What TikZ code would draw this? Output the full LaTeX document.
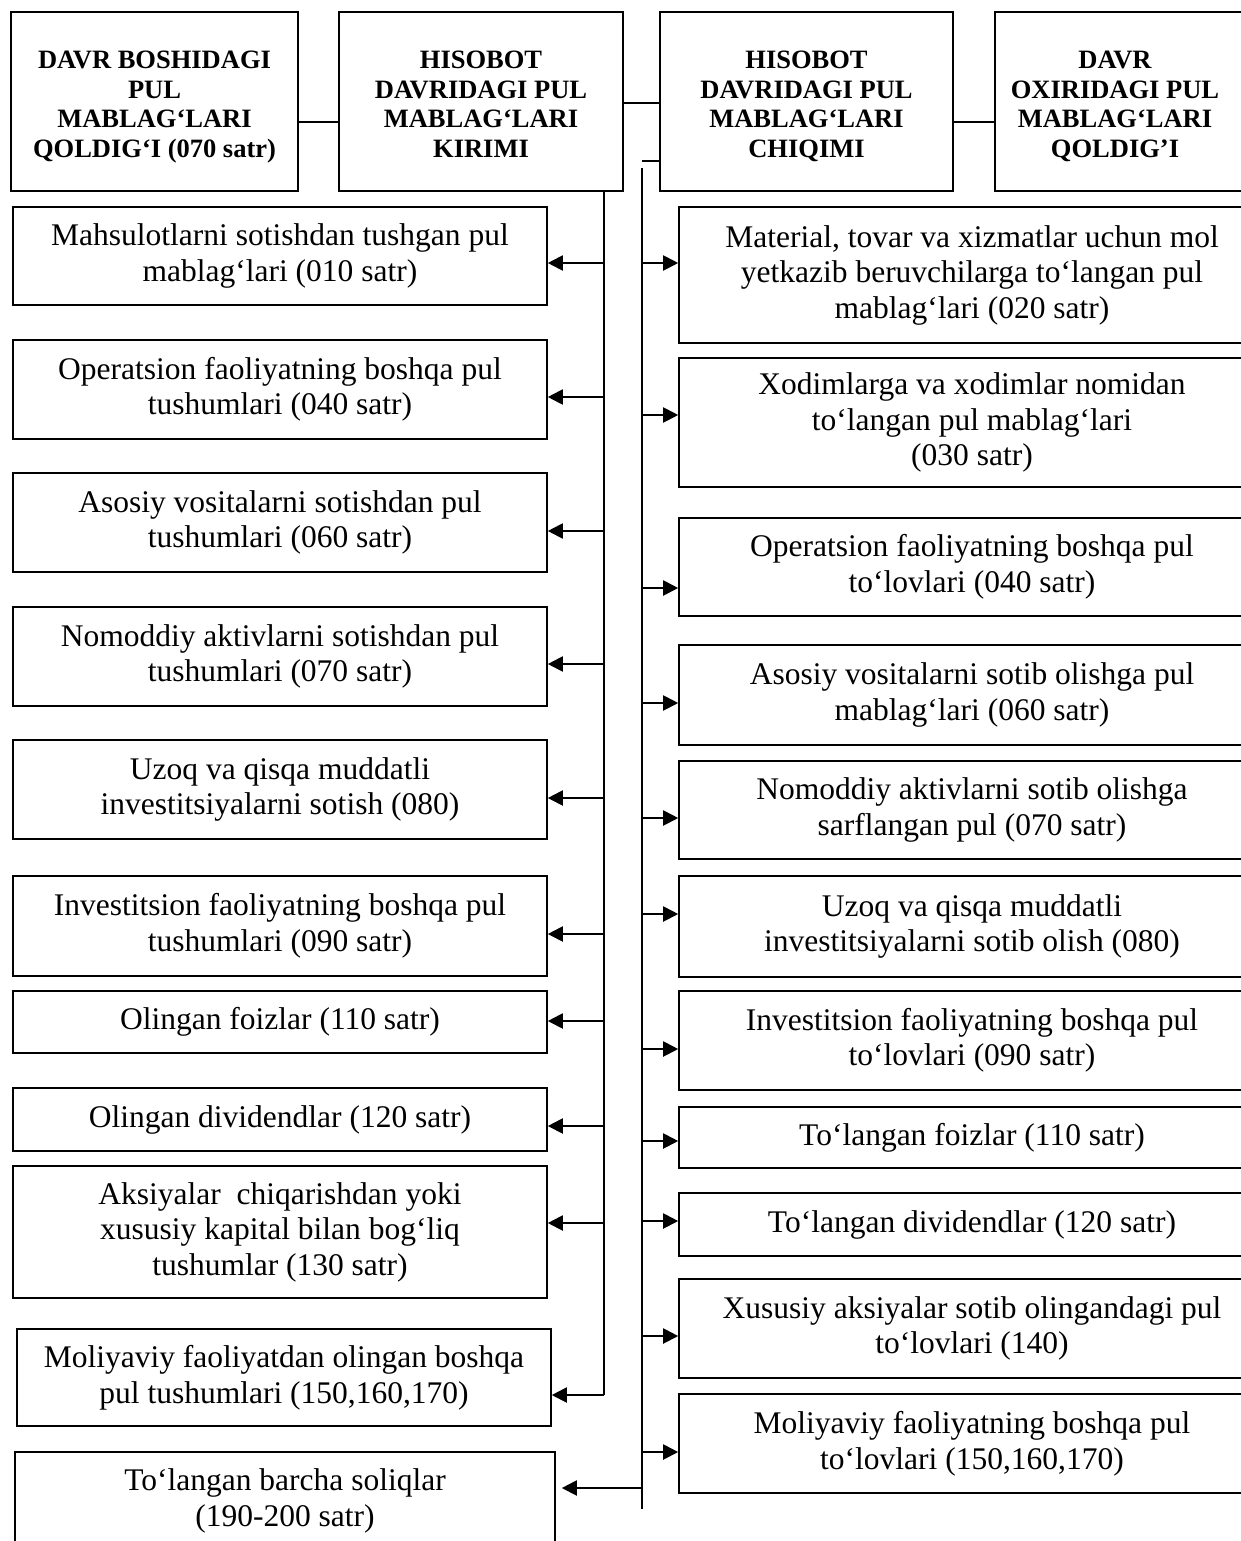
\documentclass[tikz,border=0pt]{standalone}
\usepackage{fontspec}
\setmainfont{Liberation Serif}
\usetikzlibrary{arrows.meta}
\newcommand{\topstrut}{\rule{0pt}{30pt}}
\newcommand{\botstrut}{\rule[-7pt]{0pt}{7pt}}
\begin{document}
\begin{tikzpicture}[x=1pt,y=-1pt,
  bx/.style={draw, line width=1.6pt, inner sep=0pt, align=center, font=\fontsize{31.5}{35.5}\selectfont},
  lbox/.style={bx, minimum width=534pt},
  rbox/.style={bx, minimum width=586pt},
  hfont/.style={font=\bfseries\fontsize{26.5}{29.5}\selectfont},
  hbox/.style={draw, line width=1.6pt, inner sep=0pt, minimum height=179pt, align=center, hfont},
  ln/.style={line width=1.3pt},
  arr/.style={line width=2pt, -{Triangle[length=15pt,width=15pt]}}]
\useasboundingbox (0,0) rectangle (1241,1541);
\clip (0,0) rectangle (1241,1541);

% header
\node[hbox, minimum width=287pt] (H1) at (154.5,101.5) {\topstrut DAVR BOSHIDAGI\\PUL\\MABLAG‘LARI\\QOLDIG‘I (070 satr)\botstrut};
\node[hbox, minimum width=284pt] (H2) at (481,101.5) {\topstrut HISOBOT\\DAVRIDAGI PUL\\MABLAG‘LARI\\KIRIMI\botstrut};
\node[hbox, minimum width=293pt] (H3) at (806.5,101.5) {\topstrut HISOBOT\\DAVRIDAGI PUL\\MABLAG‘LARI\\CHIQIMI\botstrut};
\node[hbox, minimum width=270pt] (H4) at (1130,101.5) {};
\node[hfont, align=center, inner sep=0pt] (H4t) at (1115,101.5) {\topstrut DAVR\\OXIRIDAGI PUL\\MABLAG‘LARI\\QOLDIG’I\botstrut};

% left column
\node[lbox, minimum height=98pt] (L1) at (280,256) {Mahsulotlarni sotishdan tushgan pul\\mablag‘lari (010 satr)};
\node[lbox, minimum height=99pt] (L2) at (280,389.5) {Operatsion faoliyatning boshqa pul\\tushumlari (040 satr)};
\node[lbox, minimum height=99pt] (L3) at (280,522.5) {Asosiy vositalarni sotishdan pul\\tushumlari (060 satr)};
\node[lbox, minimum height=99pt] (L4) at (280,656.5) {Nomoddiy aktivlarni sotishdan pul\\tushumlari (070 satr)};
\node[lbox, minimum height=99pt] (L5) at (280,789.5) {Uzoq va qisqa muddatli\\investitsiyalarni sotish (080)};
\node[lbox, minimum height=100pt] (L6) at (280,926) {Investitsion faoliyatning boshqa pul\\tushumlari (090 satr)};
\node[lbox, minimum height=62pt] (L7) at (280,1022) {Olingan foizlar (110 satr)};
\node[lbox, minimum height=63pt] (L8) at (280,1119.5) {Olingan dividendlar (120 satr)};
\node[lbox, minimum height=132pt] (L9) at (280,1232) {Aksiyalar\ \ chiqarishdan yoki\\xususiy kapital bilan bog‘liq\\tushumlar (130 satr)};
\node[lbox, minimum height=97pt] (L10) at (284,1377.5) {Moliyaviy faoliyatdan olingan boshqa\\pul tushumlari (150,160,170)};
\node[bx, minimum width=540pt, minimum height=98pt] (L11) at (285,1501) {To‘langan barcha soliqlar\\(190-200 satr)};

% right column
\node[rbox, minimum height=136pt] (R1) at (972,275) {Material, tovar va xizmatlar uchun mol\\yetkazib beruvchilarga to‘langan pul\\mablag‘lari (020 satr)};
\node[rbox, minimum height=129pt] (R2) at (972,422.5) {Xodimlarga va xodimlar nomidan\\to‘langan pul mablag‘lari\\(030 satr)};
\node[rbox, minimum height=98pt] (R3) at (972,567) {Operatsion faoliyatning boshqa pul\\to‘lovlari (040 satr)};
\node[rbox, minimum height=100pt] (R4) at (972,695) {Asosiy vositalarni sotib olishga pul\\mablag‘lari (060 satr)};
\node[rbox, minimum height=98pt] (R5) at (972,810) {Nomoddiy aktivlarni sotib olishga\\sarflangan pul (070 satr)};
\node[rbox, minimum height=101pt] (R6) at (972,926.5) {Uzoq va qisqa muddatli\\investitsiyalarni sotib olish (080)};
\node[rbox, minimum height=99pt] (R7) at (972,1040.5) {Investitsion faoliyatning boshqa pul\\to‘lovlari (090 satr)};
\node[rbox, minimum height=61pt] (R8) at (972,1137.5) {To‘langan foizlar (110 satr)};
\node[rbox, minimum height=63pt] (R9) at (972,1224.5) {To‘langan dividendlar (120 satr)};
\node[rbox, minimum height=99pt] (R10) at (972,1328.5) {Xususiy aksiyalar sotib olingandagi pul\\to‘lovlari (140)};
\node[rbox, minimum height=99pt] (R11) at (972,1443.5) {Moliyaviy faoliyatning boshqa pul\\to‘lovlari (150,160,170)};

% header connectors
\draw[ln] (H1.east |- 0,122) -- (H2.west |- 0,122);
\draw[ln] (H2.east |- 0,103) -- (H3.west |- 0,103);
\draw[ln] (H3.east |- 0,122) -- (H4.west |- 0,122);

% trunks
\coordinate (TL) at (604,0);
\coordinate (TR) at (642,0);
\draw[ln] (TL |- H2.south) -- (TL |- 0,1395);
\draw[ln] (H3.west |- 0,161) -- (TR |- 0,161);
\draw[ln] (TR |- 0,168) -- (TR |- 0,1509);

% left arrows
\foreach \n/\yy in {L1/263, L2/397, L3/531, L4/664, L5/798, L6/934, L7/1021, L8/1126, L9/1223, L10/1395}
  \draw[arr] (TL |- 0,\yy) -- (\n.east |- 0,\yy);
\coordinate (L11a) at ([xshift=6pt]L11.east);
\draw[arr] (TR |- 0,1488) -- (L11a |- 0,1488);

% right arrows
\foreach \n/\yy in {R1/263, R2/415, R3/588, R4/703, R5/818, R6/914, R7/1049, R8/1141, R9/1221, R10/1336, R11/1452}
  \draw[arr] (TR |- 0,\yy) -- (\n.west |- 0,\yy);
\end{tikzpicture}
\end{document}
